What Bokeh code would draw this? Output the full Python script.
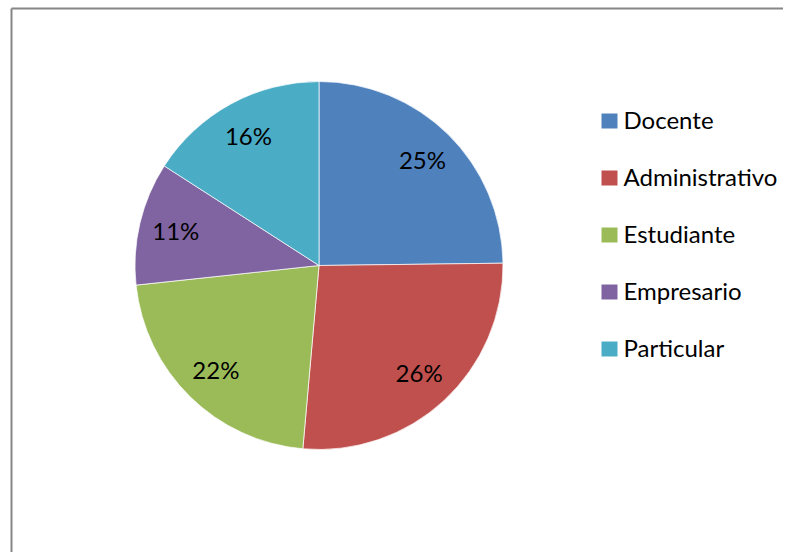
import numpy as np
from bokeh.plotting import figure
from bokeh.models import Range1d, ColumnDataSource
from bokeh.core.properties import value
from bokeh.embed import file_html
from bokeh.resources import INLINE

# ---- data ----
categories = ["Docente", "Administrativo", "Estudiante", "Empresario", "Particular"]
shares = [24.8, 26.6, 21.9, 10.8, 15.9]
pct_labels = ["25%", "26%", "22%", "11%", "16%"]
colors = ["#4F81BD", "#C0504D", "#9BBB59", "#8064A2", "#4BACC6"]

# ---- layout (pixel coords, y measured downwards from top of figure) ----
W, H = 783, 552
cx, cy_top, R = 318.5, 265.0, 184.0
cy = H - cy_top

p = figure(width=W, height=H, output_backend="svg", toolbar_location=None,
           x_range=Range1d(0, W), y_range=Range1d(0, H),
           min_border=0, outline_line_color=None)
p.axis.visible = False
p.grid.visible = False
p.background_fill_color = "white"
p.border_fill_color = "white"

vals = np.array(shares, dtype=float)
frac = vals / vals.sum()
cum_end = np.cumsum(frac)
cum_start = cum_end - frac
start = np.pi / 2 - 2 * np.pi * cum_start
end = np.pi / 2 - 2 * np.pi * cum_end
mid = (start + end) / 2

src = ColumnDataSource(dict(start=start, end=end, color=colors,
                            lx=cx + 0.80 * R * np.cos(mid),
                            ly=cy + 0.80 * R * np.sin(mid),
                            lab=pct_labels))
p.wedge(x=cx, y=cy, radius=R, start_angle="start", end_angle="end",
        direction="clock", fill_color="color", line_color="white",
        line_width=1, line_alpha=0.7, source=src)
p.text(x="lx", y="ly", text="lab", source=src, text_font=value("Lato"),
       text_font_size="24px", text_align="center", text_baseline="middle",
       text_color="black", y_offset=-1)

# legend
n = len(categories)
leg_y = H - (120.5 + 57 * np.arange(n))
lsrc = ColumnDataSource(dict(y=leg_y, color=colors, name=categories))
p.rect(x=609, y="y", width=16, height=15, fill_color="color", line_color=None, source=lsrc)
p.text(x=623, y="y", text="name", source=lsrc, text_font=value("Lato"),
       text_font_size="24px", text_align="left", text_baseline="middle",
       text_color="black", y_offset=-2)

# chart-area frame (left and top edges visible)
p.segment(x0=[11, 11], y0=[H - 8, H - 8], x1=[11, W + 5], y1=[-5, H - 8],
          line_color="#868686", line_width=2)

open("out.html", "w").write(file_html(p, INLINE))
